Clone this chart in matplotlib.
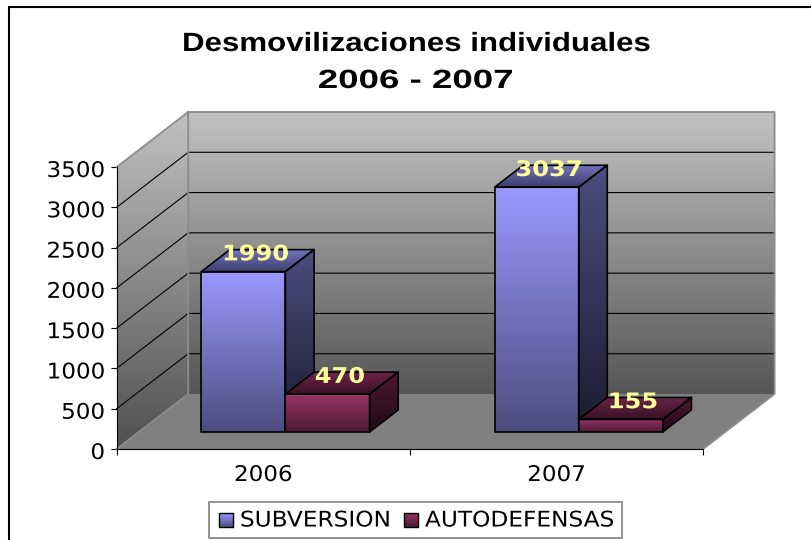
import numpy as np
import matplotlib
matplotlib.use('Agg')
import matplotlib.pyplot as plt
from matplotlib.colors import LinearSegmentedColormap
from matplotlib.patches import Polygon, Rectangle
from matplotlib.patheffects import AbstractPathEffect
from matplotlib.transforms import Affine2D, ScaledTranslation

years = ['2006', '2007']
subversion = [1990, 3037]
autodefensas = [470, 155]
yticks = [0, 500, 1000, 1500, 2000, 2500, 3000, 3500]

W, H = 811, 540
px_per_cat = 293.2
px_per_val = 282.0 / 3500
x0_px, y0_px = 116.7, 449.0

# depth of the box, in data units
DX = 71.5 / px_per_cat
DY = 55.0 / px_per_val
bar_w = 0.287
z0, z1 = 0.31, 0.71

blue = dict(front=('#9999ff', '#4d4d80'), top=('#7272bb', '#3e3e6c'), side=('#4d4d80', '#1b1b30'))
red = dict(front=('#993366', '#4d1a33'), top=('#6e2449', '#3a1026'), side=('#4d1a33', '#200a16'))


class Stretch(AbstractPathEffect):
    # the reference text is wider than any installed font, widen the glyphs
    # anchor: 0 left, 0.5 centre, 1 right
    def __init__(self, sx, anchor=0.5):
        super().__init__()
        self.sx = sx
        self.anchor = anchor

    def draw_path(self, renderer, gc, tpath, affine, rgbFace=None):
        e = tpath.get_extents()
        cx = e.x0 + self.anchor * (e.x1 - e.x0)
        t = Affine2D().translate(-cx, 0).scale(self.sx, 1).translate(cx, 0) + affine
        renderer.draw_path(gc, tpath, t, rgbFace)


def proj(x, v, z):
    return x + z * DX, v + z * DY


def grad_poly(ax, pts, c_top, c_bottom, edge=None, lw=0, zorder=2):
    pts = np.array(pts)
    cmap = LinearSegmentedColormap.from_list('g', [c_top, c_bottom])
    ext = [pts[:, 0].min(), pts[:, 0].max(), pts[:, 1].min(), pts[:, 1].max()]
    im = ax.imshow(np.linspace(0, 1, 256).reshape(-1, 1), cmap=cmap, extent=ext, origin='upper',
                   aspect='auto', interpolation='bilinear', zorder=zorder)
    clip = Polygon(pts, closed=True, transform=ax.transData, facecolor='none', edgecolor='none')
    ax.add_patch(clip)
    im.set_clip_path(clip)
    if edge:
        ax.add_patch(Polygon(pts, closed=True, facecolor='none', edgecolor=edge, linewidth=lw,
                             joinstyle='round', zorder=zorder + 0.1))


def bar3d(ax, x, v, colors, zorder):
    a, b = x, x + bar_w
    grad_poly(ax, [proj(a, 0, z0), proj(b, 0, z0), proj(b, v, z0), proj(a, v, z0)],
              *colors['front'], edge='black', lw=1.2, zorder=zorder)
    grad_poly(ax, [proj(a, v, z0), proj(b, v, z0), proj(b, v, z1), proj(a, v, z1)],
              *colors['top'], edge='black', lw=1.2, zorder=zorder)
    grad_poly(ax, [proj(b, 0, z0), proj(b, 0, z1), proj(b, v, z1), proj(b, v, z0)],
              *colors['side'], edge='black', lw=1.2, zorder=zorder)
    lx, ly = proj(x + bar_w / 2, v, (z0 + z1) / 2)
    ax.annotate(str(v), (lx, ly), xytext=(-1.5, 4.5), textcoords='offset points', ha='center', va='center',
                color='#ffff99', fontsize=15.5, fontweight='bold', family='DejaVu Sans', zorder=20,
                path_effects=[Stretch(1.12)])


fig = plt.figure(figsize=(W / 100, H / 100), dpi=100, facecolor='white')

# pixel layer for frame, title and legend
ov = fig.add_axes([0, 0, 1, 1])
ov.set_xlim(0, W)
ov.set_ylim(H, 0)
ov.axis('off')
ov.plot([8.5, 8.5, W], [H, 6.5, 6.5], color='black', lw=1.5, solid_joinstyle='miter')
ov.text(416.5, 44, 'Desmovilizaciones individuales', ha='center', va='center', fontsize=19,
        fontweight='bold', family='Liberation Sans', path_effects=[Stretch(1.184)])
ov.text(415.5, 81, '2006 - 2007', ha='center', va='center', fontsize=19, fontweight='bold',
        family='Liberation Sans', path_effects=[Stretch(1.39)])

ax = fig.add_axes([0, 0, 1, 1], facecolor='none')
ax.set_xlim(-x0_px / px_per_cat, (W - x0_px) / px_per_cat)
ax.set_ylim(-(H - y0_px) / px_per_val, y0_px / px_per_val)
ax.set_autoscale_on(False)

vmax = yticks[-1]
xmax = len(years)
grey = '#8c8c8c'
# floor and walls
ax.add_patch(Polygon([proj(0, 0, 0), proj(xmax, 0, 0), proj(xmax, 0, 1), proj(0, 0, 1)],
                     facecolor='#808080', edgecolor='none', zorder=1))
grad_poly(ax, [proj(0, 0, 1), proj(xmax, 0, 1), proj(xmax, vmax, 1), proj(0, vmax, 1)],
          '#c2c2c2', '#565656', zorder=1)
grad_poly(ax, [proj(0, 0, 0), proj(0, 0, 1), proj(0, vmax, 1), proj(0, vmax, 0)],
          '#c2c2c2', '#505050', zorder=1)
for v in yticks[1:-1]:
    ax.plot(*zip(proj(0, v, 0), proj(0, v, 1), proj(xmax, v, 1)), color='black', lw=0.8, zorder=1.5)
ax.plot(*zip(proj(0, vmax, 0), proj(0, vmax, 1), proj(xmax, vmax, 1), proj(xmax, 0, 1), proj(xmax, 0, 0)),
        color=grey, lw=1.3, zorder=1.6)
ax.plot(*zip(proj(0, vmax, 1), proj(0, 0, 1), proj(0, 0, 0)), color=grey, lw=1.3, zorder=1.6)

for i in range(len(years)):
    bar3d(ax, i + 0.5 - bar_w, subversion[i], blue, 3 + i)
    bar3d(ax, i + 0.5, autodefensas[i], red, 3.5 + i)

# axes
for s in ['top', 'right']:
    ax.spines[s].set_visible(False)
ax.spines['left'].set_position(('data', 0))
ax.spines['bottom'].set_position(('data', 0))
ax.spines['left'].set_bounds(0, vmax)
ax.spines['bottom'].set_bounds(0, xmax)
ax.spines['left'].set_zorder(10)
ax.spines['bottom'].set_zorder(10)
ax.set_yticks(yticks)
ax.tick_params(axis='y', length=4, width=0.8, pad=4.5, labelsize=15.5, labelfontfamily='DejaVu Sans')
ax.set_xticks(range(xmax + 1))
ax.set_xticklabels([])
ax.set_xticks(np.arange(xmax) + 0.5, labels=years, minor=True)
ax.tick_params(axis='x', which='major', length=4.5, width=0.8)
ax.tick_params(axis='x', which='minor', length=0, pad=11.5, labelsize=15.5, labelfontfamily='DejaVu Sans')
# numbers sit a little under their ticks in the original
down = ScaledTranslation(0, -2 / 100, fig.dpi_scale_trans)
for lab in ax.get_yticklabels():
    lab.set_transform(lab.get_transform() + down)
    lab.set_path_effects([Stretch(1.07, anchor=1)])
for lab in ax.get_xticklabels(minor=True):
    lab.set_path_effects([Stretch(1.07)])

# legend
ov.set_zorder(5)
ov.add_patch(Rectangle((209, 502), 413, 36, facecolor='white', edgecolor='#808080', lw=1.2))
for sx, name, tx, colors in [(218.5, 'SUBVERSION', 240, blue), (403.5, 'AUTODEFENSAS', 425, red)]:
    grad_poly(ov, [(sx, 513), (sx + 14, 513), (sx + 14, 527), (sx, 527)], colors['front'][1], colors['front'][0],
              edge='black', lw=1.0, zorder=3)
    ov.text(tx, 520.5, name, ha='left', va='center', fontsize=15.5, family='DejaVu Sans', zorder=3,
            path_effects=[Stretch(1.08, anchor=0)])
ov.set_xlim(0, W)
ov.set_ylim(H, 0)

fig.savefig('out.png', dpi=100)
